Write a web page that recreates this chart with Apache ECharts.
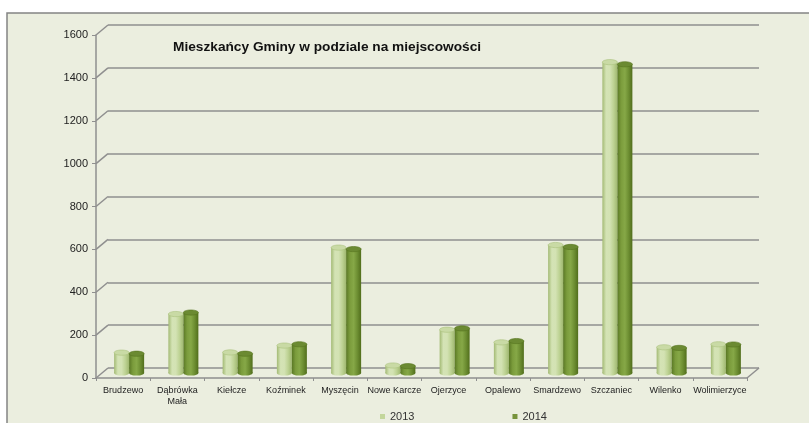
<!DOCTYPE html>
<html>
<head>
<meta charset="utf-8">
<script src="https://cdn.jsdelivr.net/npm/echarts@6/dist/echarts.min.js"></script>
<style>html,body{margin:0;padding:0;background:#fff}#c{width:809px;height:423px}</style>
</head>
<body>
<div id="c"></div>
<script>
const categories = ['Brudzewo','Dąbrówka\nMała','Kiełcze','Koźminek','Myszęcin','Nowe Karcze','Ojerzyce','Opalewo','Smardzewo','Szczaniec','Wilenko','Wolimierzyce'];
const values2013 = [95, 275, 96, 128, 585, 35, 202, 143, 597, 1450, 120, 134];
const values2014 = [90, 282, 90, 134, 578, 32, 208, 149, 588, 1440, 117, 133];
const seriesNames = ['2013', '2014'];
const yTicks = [0, 200, 400, 600, 800, 1000, 1200, 1400, 1600];
const titleText = 'Mieszkańcy Gminy w podziale na miejscowości';

// layout (front plane) and 3D depth offset
const FRONT = {left: 96, top: 35, width: 651, height: 343};
const DX = 12, DY = 10;
const BAR_W = 15, ELL_RY = 2.6;
const grid = f => ({left: FRONT.left + DX * f, top: FRONT.top - DY * f, width: FRONT.width, height: FRONT.height});

const font = 'Liberation Sans, Arial, sans-serif';
const gridColor = '#8f8f8f';

function grad(stops) {
  return new echarts.graphic.LinearGradient(0, 0, 1, 0, stops.map((c, i) => ({offset: i / (stops.length - 1), color: c})));
}
const bodyColors = [
  grad(['#a3ba74', '#d4e3b5', '#d3e2b3', '#bdd293', '#a0b870']),
  grad(['#5a7825', '#7b9c3c', '#86a847', '#6d8e32', '#516e1c'])
];
const topColors = ['#c9daa5', '#6b8a32'];
const topStroke = ['#a9c17c', '#56731f'];
const mainColors = ['#c3d69b', '#77933c'];

const yBase = {type: 'value', min: 0, max: 1600, interval: 200};

const option = {
  animation: false,
  backgroundColor: '#ffffff',
  graphic: {elements: [{type: 'rect', z: -100, silent: true,
    shape: {x: 7, y: 13, width: 900, height: 500},
    style: {fill: '#ebeedf', stroke: '#848484', lineWidth: 1.5}}]},
  title: {text: titleText, left: 173, top: 40, padding: 0,
    textStyle: {fontFamily: font, fontSize: 13.7, fontWeight: 'bold', color: '#111'}},
  legend: {left: 380, top: 411, itemWidth: 5, itemHeight: 5, itemGap: 98,
    icon: 'rect', padding: 0,
    textStyle: {fontFamily: font, fontSize: 11, color: '#333'}},
  grid: [grid(1), grid(0), grid(0.5)],
  xAxis: [
    {type: 'category', data: categories, gridIndex: 0, show: false},
    {type: 'category', data: categories, gridIndex: 1,
      axisLine: {lineStyle: {color: gridColor, width: 1.5}},
      axisTick: {show: true, length: 3, lineStyle: {color: gridColor}},
      axisLabel: {fontFamily: font, fontSize: 9, color: '#222', margin: 7, interval: 0, lineHeight: 11}},
    {type: 'category', data: categories, gridIndex: 2, show: false}
  ],
  yAxis: [
    Object.assign({gridIndex: 0, axisLabel: {show: false}, axisLine: {show: false}, axisTick: {show: false},
      splitLine: {lineStyle: {color: gridColor, width: 1.5}}}, yBase),
    Object.assign({gridIndex: 1, splitLine: {show: false},
      axisLine: {show: true, lineStyle: {color: gridColor, width: 1.5}},
      axisTick: {show: true, length: 4, lineStyle: {color: gridColor}},
      axisLabel: {fontFamily: font, fontSize: 11, color: '#222', margin: 8, formatter: v => String(v)}}, yBase),
    Object.assign({gridIndex: 2, show: false}, yBase)
  ],
  series: [
    {type: 'custom', xAxisIndex: 1, yAxisIndex: 1, silent: true, clip: false, z: 1,
      data: yTicks.map(v => [0, v]),
      renderItem: function (params, api) {
        const p = api.coord([0, api.value(1)]);
        const band = api.size([1, 0])[0];
        const left = p[0] - band / 2;
        const children = [{type: 'line', shape: {x1: left, y1: p[1], x2: left + DX, y2: p[1] - DY},
          style: {stroke: gridColor, lineWidth: 1.5}}];
        if (api.value(1) === 0) {
          const r = api.coord([categories.length - 1, 0])[0] + band / 2;
          children.push({type: 'line', shape: {x1: r, y1: p[1], x2: r + DX, y2: p[1] - DY},
            style: {stroke: gridColor, lineWidth: 1.5}});
        }
        return {type: 'group', children: children};
      }
    }
  ]
};

[values2013, values2014].forEach((vals, i) => {
  option.series.push({
    name: seriesNames[i], type: 'custom', xAxisIndex: 2, yAxisIndex: 2, silent: true, z: 3 + i,
    itemStyle: {color: mainColors[i]},
    encode: {x: 0, y: 1},
    data: vals.map((v, j) => [j, v]),
    renderItem: function (params, api) {
      const top = api.coord([api.value(0), api.value(1)]);
      const base = api.coord([api.value(0), 0]);
      const cx = top[0] + (i - 0.5) * BAR_W;
      return {type: 'group', children: [
        {type: 'ellipse', shape: {cx: cx, cy: base[1], rx: BAR_W / 2, ry: ELL_RY}, style: {fill: bodyColors[i]}},
        {type: 'rect', shape: {x: cx - BAR_W / 2, y: top[1], width: BAR_W, height: base[1] - top[1]}, style: {fill: bodyColors[i]}},
        {type: 'ellipse', shape: {cx: cx, cy: top[1], rx: BAR_W / 2, ry: ELL_RY},
          style: {fill: topColors[i], stroke: topStroke[i], lineWidth: 0.6}}
      ]};
    }
  });
});

const chart = echarts.init(document.getElementById('c'), null, {renderer: 'canvas'});
chart.setOption(option);
</script>
</body>
</html>
